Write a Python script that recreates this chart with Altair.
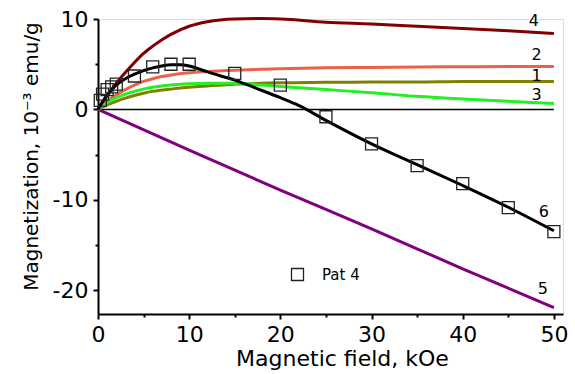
import altair as alt
import pandas as pd

# ---- data ----
field_grid = [0, 1, 2, 3, 4, 5, 6, 8, 10, 12, 15, 18, 20, 25, 30, 35, 40, 45, 50]
curve1 = [0, 0.5, 0.9, 1.25, 1.55, 1.8, 2.0, 2.25, 2.45, 2.6, 2.8, 2.9, 2.95, 3.0, 3.05, 3.05, 3.1, 3.1, 3.1]
curve2 = [0, 0.9, 1.6, 2.2, 2.7, 3.1, 3.4, 3.8, 4.05, 4.2, 4.35, 4.45, 4.5, 4.6, 4.65, 4.7, 4.72, 4.75, 4.75]
curve3 = [0, 0.75, 1.3, 1.7, 2.0, 2.25, 2.45, 2.7, 2.85, 2.9, 2.9, 2.7, 2.55, 2.2, 1.85, 1.45, 1.15, 0.9, 0.65]
curve4 = [0, 1.5, 2.9, 4.1, 5.2, 6.2, 7.0, 8.3, 9.2, 9.7, 10.0, 10.05, 10.0, 9.65, 9.45, 9.2, 8.95, 8.7, 8.4]
curve5_x = [0, 10, 20, 30, 40, 50]
curve5 = [0, -4.5, -8.9, -13.2, -17.6, -21.9]
fit6_x = [0, 1, 2, 3, 4, 5, 6, 7, 8, 9, 10, 11, 12, 15, 18, 20, 22, 25, 30, 35, 40, 45, 50]
fit6 = [0, 1.6, 2.7, 3.4, 3.9, 4.3, 4.6, 4.8, 4.95, 4.95, 4.8, 4.5, 4.15, 3.25, 2.1, 1.3, 0.45, -1.2, -3.8, -6.1, -8.4, -10.8, -13.4]
pat4_x = [0.25, 0.5, 1, 1.5, 2, 4, 6, 8, 10, 15, 20, 25, 30, 35, 40, 45, 50]
pat4_y = [1.0, 1.7, 2.2, 2.5, 2.8, 3.7, 4.7, 5.0, 5.0, 4.0, 2.7, -0.8, -3.8, -6.2, -8.2, -10.85, -13.5]
curve_ids = ["5", "4", "2", "1", "3"]
curve_colors = ["#800080", "#800000", "#EC6248", "#808000", "#22F022"]
label_text = ["4", "2", "1", "3", "6", "5"]
label_x = [47.8, 48.1, 48.1, 48.1, 48.9, 48.8]
label_y = [9.75, 6.0, 3.75, 1.65, -11.3, -19.8]

# ---- tables ----
rows = []
for cid in curve_ids:
    if cid == "5":
        xs, ys = curve5_x, curve5
    else:
        xs = field_grid
        ys = {"1": curve1, "2": curve2, "3": curve3, "4": curve4}[cid]
    for i, (a, b) in enumerate(zip(xs, ys)):
        rows.append({"curve": cid, "H": a, "M": b, "o": i})
curves_df = pd.DataFrame(rows)
fit_df = pd.DataFrame({"H": fit6_x, "M": fit6, "o": list(range(len(fit6)))})
pts_df = pd.DataFrame({"H": pat4_x, "M": pat4_y, "series": ["Pat 4"] * len(pat4_x)})
lab_df = pd.DataFrame({"t": label_text, "H": label_x, "M": label_y})
zero_df = pd.DataFrame({"H": [0], "H2": [50], "M": [0]})

FONT = "DejaVu Sans"

xscale = alt.Scale(domain=[0, 51], nice=False, zero=False)
yscale = alt.Scale(domain=[-22.6, 10], nice=False, zero=False)

xaxis = alt.Axis(
    values=[0, 5, 10, 15, 20, 25, 30, 35, 40, 45, 50],
    labelExpr="datum.value % 10 === 0 ? datum.label : ''",
    tickSize={"condition": {"test": "datum.value % 10 === 0", "value": 5}, "value": 3},
    title="Magnetic field, kOe",
    grid=False,
    domainColor="black", domainWidth=2, tickColor="black", tickWidth=2,
    labelFont=FONT, labelFontSize=22, labelColor="black", labelPadding=5,
    labelFlush=False, labelOverlap=False,
    titleFont=FONT, titleFontSize=22, titleFontWeight="normal", titleColor="black",
    titleX=244, titleY=51, titleBaseline="alphabetic", titleAnchor="middle",
)
yaxis = alt.Axis(
    values=[-20, -15, -10, -5, 0, 5, 10],
    labelExpr="datum.value % 10 === 0 ? (datum.value < 0 ? '-' + abs(datum.value) : '' + datum.value) : ''",
    tickSize={"condition": {"test": "datum.value % 10 === 0", "value": 5}, "value": 3},
    title="Magnetization, 10⁻³ emu/g",
    grid=False,
    domainColor="black", domainWidth=2, tickColor="black", tickWidth=2,
    labelFont=FONT, labelFontSize=22, labelColor="black", labelPadding=5,
    labelFlush=False, labelOverlap=False,
    titleFont=FONT, titleFontSize=20, titleFontWeight="normal", titleColor="black",
    titleX=-61, titleY=137, titleBaseline="alphabetic", titleAngle=-90,
)

X = alt.X("H:Q", scale=xscale, axis=xaxis)
Y = alt.Y("M:Q", scale=yscale, axis=yaxis)

zero = alt.Chart(zero_df).mark_rule(color="black", strokeWidth=1.5).encode(
    x=alt.X("H:Q", scale=xscale, axis=xaxis), x2="H2:Q", y=alt.Y("M:Q", scale=yscale, axis=yaxis)
)

lines = alt.Chart(curves_df).mark_line(strokeWidth=3, interpolate="monotone").encode(
    x=X, y=Y, order="o:Q",
    color=alt.Color("curve:N", scale=alt.Scale(domain=curve_ids, range=curve_colors), legend=None),
)

fit = alt.Chart(fit_df).mark_line(strokeWidth=3, color="black", interpolate="monotone").encode(
    x=X, y=Y, order="o:Q"
)

pts = alt.Chart(pts_df).mark_point(filled=False, size=144, strokeWidth=1.3, color="#222222", opacity=1).encode(
    x=X, y=Y,
    shape=alt.Shape("series:N", scale=alt.Scale(domain=["Pat 4"], range=["square"]),
                    legend=alt.Legend(title=None, orient="none", legendX=192, legendY=248,
                                      labelFont=FONT, labelFontSize=15, labelColor="black",
                                      symbolSize=144, symbolStrokeColor="#222222",
                                      symbolFillColor="transparent", symbolStrokeWidth=1.3,
                                      labelOffset=17, padding=0)),
)

labels = alt.Chart(lab_df).mark_text(font=FONT, fontSize=16, color="black", align="center", baseline="middle").encode(
    x=X, y=Y, text="t:N"
)

chart = alt.layer(zero, lines, fit, pts, labels).properties(
    width=465, height=295,
    autosize=alt.AutoSizeParams(type="none"),
    padding={"left": 98, "top": 19, "right": 12, "bottom": 60},
).configure_view(strokeWidth=0).configure(background="white")

chart.save("out.html", embed_options={"renderer": "svg", "actions": False})
